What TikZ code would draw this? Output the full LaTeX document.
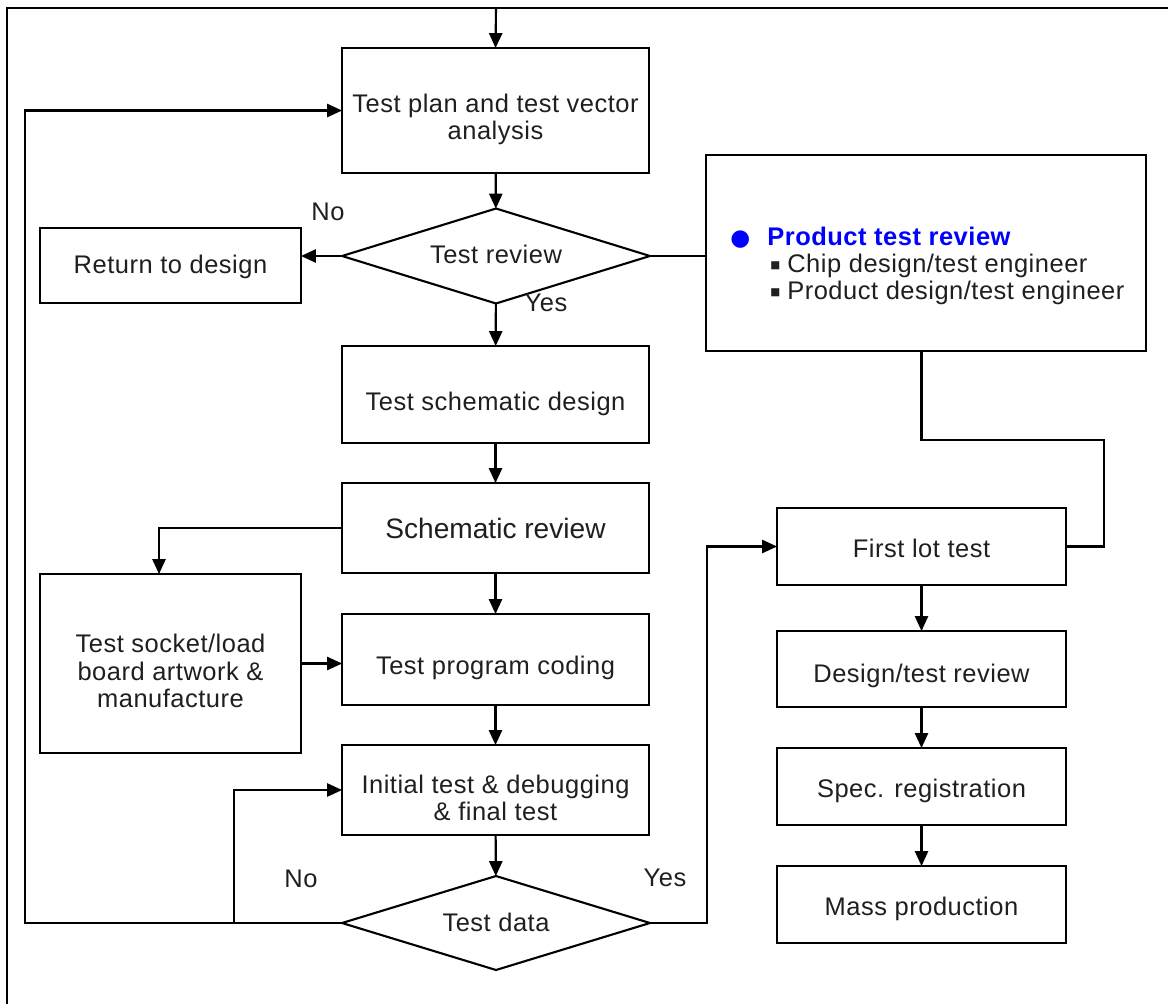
\documentclass[tikz,border=0pt]{standalone}
\usepackage{fontspec}
\setmainfont{Liberation Sans}[LetterSpace=2]
\newfontfamily\plainsans{Liberation Sans}
\newfontfamily\symfont{DejaVu Sans}
\usetikzlibrary{shapes.geometric,arrows.meta}
\definecolor{ink}{gray}{0.12}
% text block whose first baseline sits #1 below the node centre
\newcommand\boxtext[2]{\raisebox{-#1}[0pt][0pt]{\begin{tabular}[t]{@{}c@{}}#2\end{tabular}}}
\begin{document}
\begin{tikzpicture}[x=0.02cm,y=-0.02cm,
  every node/.style={text=ink, font=\fontsize{14.5}{15.3}\selectfont},
  box/.style={draw, line width=1.2pt, inner sep=0pt, outer sep=0pt},
  dec/.style={draw, diamond, shape aspect=3.24, line width=1.2pt, inner sep=0pt, outer sep=0pt,
              minimum width=6.16cm, minimum height=1.9cm},
  link/.style={line width=1.2pt},
  flow/.style={link, -{Triangle[length=8.5pt,width=7.5pt]}},
  lbl/.style={inner sep=0pt}
]
\useasboundingbox (0,0) rectangle (1168,1003);
\begin{scope}
  \clip (0,0) rectangle (1168,1003);
  \draw[line width=1.3pt] (7,8) rectangle (1190,1020);
\end{scope}

% main column
\node[box, minimum width=6.14cm, minimum height=2.5cm, font=\fontsize{14.5}{14.7}\selectfont]
  (plan) at (495.5,110.5) {\boxtext{1.4pt}{Test plan and test vector\\analysis}};
\node[dec] (trev) at (496,256) {\boxtext{4.5pt}{Test review}};
\node[box, minimum width=5.22cm, minimum height=1.5cm] (ret) at (170.5,265.5)
  {\boxtext{4.8pt}{Return to design}};
\node[box, minimum width=6.14cm, minimum height=1.94cm] (sdes) at (495.5,394.5)
  {\boxtext{9.2pt}{Test schematic design}};
\node[box, minimum width=6.14cm, minimum height=1.8cm, font=\plainsans\fontsize{16}{18}\selectfont]
  (srev) at (495.5,528) {\boxtext{6.2pt}{Schematic review}};
\node[box, minimum width=5.22cm, minimum height=3.58cm, font=\fontsize{14.5}{15.6}\selectfont]
  (sock) at (170.5,663.5) {\boxtext{-6.2pt}{Test socket/load\\board artwork \&\\manufacture}};
\node[box, minimum width=6.14cm, minimum height=1.82cm] (code) at (495.5,659.5)
  {\boxtext{8.4pt}{Test program coding}};
\node[box, minimum width=6.14cm, minimum height=1.8cm] (init) at (495.5,790)
  {\boxtext{1.8pt}{Initial test \& debugging\\\& final test}};
\node[dec, minimum height=1.88cm] (tdat) at (496,923) {\boxtext{5.1pt}{Test data}};

% right column
\node[box, minimum width=8.8cm, minimum height=3.92cm] (prod) at (926,253) {};
\node[anchor=base west, inner sep=0pt] (ptxt) at (730,246)
  {\begin{tabular}[t]{@{}l@{}}
   \makebox[0.74cm][l]{\color{blue}\symfont\fontsize{13}{13}\selectfont ●}{\color{blue}\bfseries Product test review}\\
   \hspace{0.8cm}\makebox[0.34cm][l]{\raisebox{2.6pt}{\symfont\fontsize{6}{6}\selectfont ■}}Chip design/test engineer\\
   \hspace{0.8cm}\makebox[0.34cm][l]{\raisebox{2.6pt}{\symfont\fontsize{6}{6}\selectfont ■}}Product design/test engineer
   \end{tabular}};
\node[box, minimum width=5.78cm, minimum height=1.54cm] (flot) at (921.5,546.5)
  {\boxtext{6.5pt}{First lot test}};
\node[box, minimum width=5.78cm, minimum height=1.52cm] (dtr) at (921.5,669)
  {\boxtext{7.4pt}{Design/test review}};
\node[box, minimum width=5.78cm, minimum height=1.54cm] (spec) at (921.5,786.5)
  {\boxtext{6.5pt}{Spec. registration}};
\node[box, minimum width=5.78cm, minimum height=1.54cm] (mass) at (921.5,904.5)
  {\boxtext{6.5pt}{Mass production}};

% branch labels
\node[lbl] (no1) at (328,212) {No};
\node[lbl] (yes1) at (546,303) {Yes};
\node[lbl] (no2) at (301,879) {No};
\node[lbl] (yes2) at (665,878) {Yes};

% connectors
\coordinate (entry) at (496,8);
\coordinate (loopR) at (234,923);
\coordinate (fwd) at (707,923);
\coordinate (fb) at (1104,440);
\coordinate (sockin) at (159,574);

\draw[flow] (entry) -- (plan.north);
\draw[flow] (plan) -- (trev);
\draw[flow] (trev.west) -- (trev.west -| ret.east);
\draw[link] (trev.east) -- (trev.east -| prod.west);
\draw[flow] (trev) -- (sdes);
\draw[flow] (sdes) -- (srev);
\draw[flow] (srev.west) -| (sockin);
\draw[flow] (srev) -- (code);
\draw[flow] (sock.east) -- (sock.east -| code.west);
\draw[flow] (code) -- (init);
\draw[flow] (init) -- (tdat);
\draw[flow] (tdat.west) -| ([xshift=-6.34cm]plan.west) -- (plan.west);
\draw[flow] (loopR) |- (init.west);
\draw[flow] (tdat.east) -- (fwd) |- (flot.west);
\draw[link] (prod.south -| flot.north) |- (fb) |- (flot.east);
\draw[flow] (flot) -- (dtr);
\draw[flow] (dtr) -- (spec);
\draw[flow] (spec) -- (mass);
\end{tikzpicture}
\end{document}
